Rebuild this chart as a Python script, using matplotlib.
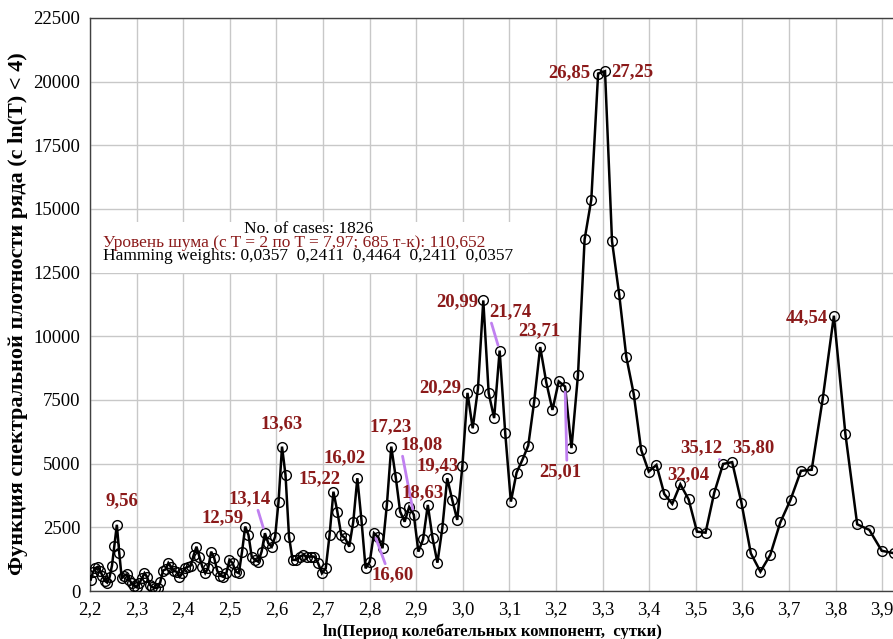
import numpy as np
import matplotlib
matplotlib.use('Agg')
import matplotlib.pyplot as plt
from matplotlib.patches import Rectangle

plt.rcParams['font.family'] = ['Liberation Serif', 'DejaVu Serif']

# Периодограмма: номер гармоники k -> период T = N / k
n_cases = 1826
harmonics = np.arange(202, 35, -1)
density = [
    450, 750, 900, 950, 800, 600, 400, 330, 550, 1000,
    1780, 2600, 1480, 500, 600, 650, 450, 300, 200, 150,
    300, 500, 700, 550, 250, 150, 120, 130, 350, 800,
    850, 1100, 950, 800, 750, 560, 700, 900, 950, 1000,
    1400, 1740, 1350, 950, 700, 900, 1545, 1300, 800, 600,
    560, 700, 1220, 1100, 760, 700, 1545, 2530, 2200, 1350,
    1220, 1150, 1545, 2270, 1875, 1740, 2135, 3510, 5670, 4560,
    2135, 1220, 1220, 1350, 1415, 1350, 1350, 1350, 1090, 695,
    890, 2200, 3900, 3120, 2200, 2070, 1740, 2720, 4430, 2790,
    890, 1150, 2270, 2110, 1680, 3380, 5670, 4490, 3120, 2720,
    3300, 3000, 1545, 2030, 3380, 2070, 1110, 2465, 4430, 3580,
    2790, 4900, 7780, 6390, 7950, 11410, 7770, 6790, 9440, 6200,
    3510, 4650, 5150, 5710, 7440, 9580, 8190, 7110, 8230, 8030,
    5610, 8490, 13810, 15370, 20320, 20410, 13730, 11660, 9180, 7740,
    5540, 4690, 4950, 3810, 3420, 4190, 3600, 2330, 2290, 3860,
    4990, 5060, 3470, 1480, 760, 1415, 2690, 3580, 4720, 4760,
    7530, 10810, 6170, 2620, 2400, 1580, 1480,
]
ln_period = np.log(n_cases / harmonics)

# подписи пиков (период в сутках) и номера гармоник
peak_labels = ['9,56', '12,59', '13,14', '13,63', '15,22', '16,02', '16,60',
               '17,23', '18,08', '18,63', '19,43', '20,29', '20,99', '21,74',
               '23,71', '25,01', '26,85', '27,25', '32,04', '35,12', '35,80',
               '44,54']
peak_harmonics = [191, 145, 139, 134, 120, 114, 110, 106, 101, 98, 94, 90,
                  87, 84, 77, 73, 68, 67, 57, 52, 51, 41]

# смещения подписей (пиксели) и выноски
label_offsets = [(4.6, 23.8), (-23, 8.6), (-15.4, 34.2), (-0.5, 22.7),
                 (-13.9, 12.8), (-12.8, 20.3), (19, -41.8), (-0.7, 19.7),
                 (7.7, 69.7), (-4.8, 12), (-9.2, 12.3), (-27, 5),
                 (-26.1, -1.3), (10.4, 38.8), (-0.7, 16.2), (-4.9, -85),
                 (-28.6, 0.9), (27.5, -0.2), (7.9, 9.4), (-22.1, 15.7),
                 (20.8, 14.2), (-27.4, -2.1)]
leaders = {'13,14': (0.68, 0), '16,60': (0.34, 1), '18,08': (0.04, 0),
           '21,74': (0.04, 0), '25,01': (0.66, 1), '35,12': (0.88, 0)}

red = '#8b1a1a'
W, H = 893, 639
fig = plt.figure(figsize=(W / 100, H / 100), dpi=100)
ax = fig.add_axes([90 / W, 48 / H, 1.8 * 466 / W, 573 / H])

ax.plot(ln_period, density, color='black', lw=1.8, marker='o', ms=7,
        mfc='none', mec='black', mew=1.0, solid_joinstyle='miter', zorder=3)

ax.set_xlim(2.2, 4.0)
ax.set_ylim(0, 22500)
xt = np.round(np.arange(2.2, 3.95, 0.1), 1)
ax.set_xticks(xt)
ax.set_xticklabels([f'{v:.1f}'.replace('.', ',') for v in xt])
ax.set_yticks(range(0, 22501, 2500))
ax.grid(True, color='#c8c8c8', lw=1)
ax.set_axisbelow(True)
ax.tick_params(length=0, labelsize=13.5, pad=7)
for s in ax.spines.values():
    s.set_color('#404040')
    s.set_linewidth(1)

# белая подложка под текстом
ax.add_patch(Rectangle((2.21, 12500), 0.93, 2000, facecolor='white',
                       edgecolor='none', zorder=1))

for txt, k, (dx, dy) in zip(peak_labels, peak_harmonics, label_offsets):
    i = list(harmonics).index(k)
    arrow = None
    if txt in leaders:
        arrow = dict(arrowstyle='-', color='#c080f0', lw=2,
                     relpos=leaders[txt], shrinkA=0, shrinkB=4)
    ax.annotate(txt, (ln_period[i], density[i]), xytext=(dx, dy),
                textcoords='offset pixels', ha='center', va='center',
                color=red, fontsize=13.5, fontweight='bold',
                arrowprops=arrow, zorder=4)

fig.text(309 / W, 1 - 229.3 / H, 'No. of cases: 1826', ha='center',
         va='center', fontsize=12.5)
fig.text(103.3 / W, 1 - 242.7 / H,
         'Уровень шума (с T = 2 по T = 7,97; 685 т-к): 110,652',
         ha='left', va='center', fontsize=12.5, color=red)
fig.text(103.3 / W, 1 - 256 / H,
         'Hamming weights: 0,0357  0,2411  0,4464  0,2411  0,0357',
         ha='left', va='center', fontsize=12.5)

fig.text(18 / W, 1 - 314 / H,
         'Функция спектральной плотности ряда (с ln(T) < 4)',
         rotation=90, ha='center', va='center', fontsize=16,
         fontweight='bold')
fig.text(492 / W, 1 - 632 / H, 'ln(Период колебательных компонент,  сутки)',
         ha='center', va='center', fontsize=12, fontweight='bold')

fig.savefig('out.png', dpi=100)
